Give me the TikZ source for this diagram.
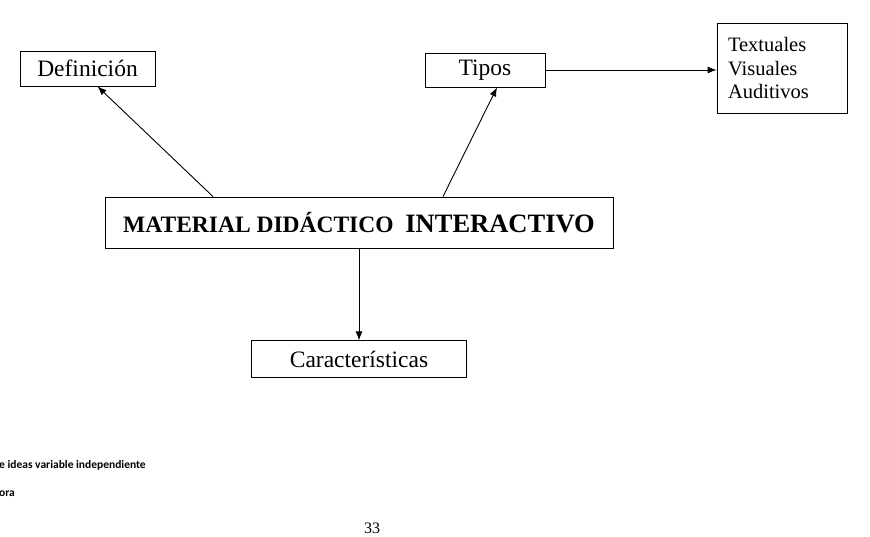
\documentclass[tikz,border=0pt]{standalone}
\usepackage{fontspec}
\setmainfont{Liberation Serif}[BoldFont={Liberation Serif Bold}]
\newfontfamily\notefont{Carlito}[BoldFont={Carlito Bold}]
\usetikzlibrary{arrows.meta,positioning}

\begin{document}
\begin{tikzpicture}[
  x=1pt, y=-1pt,
  box/.style={draw, line width=0.8pt, inner sep=0pt, align=center, font=\fontsize{23.5}{27}\selectfont},
  arr/.style={-{Latex[length=9pt,width=7pt]}, line width=0.9pt}
]
\useasboundingbox (0,0) rectangle (870,536);
\node[box, minimum width=508pt, minimum height=51pt] (material) at (359,222.5)
  {\bfseries MATERIAL DIDÁCTICO\ \ {\fontsize{26.5}{30}\selectfont INTERACTIVO}};
\node[box, minimum width=135pt, minimum height=35pt] (def) at (87.5,68.5) {Definición};
\node[box, minimum width=120pt, minimum height=34pt, text depth=5pt] (tipos) at (485,70) {Tipos};
\node[box, minimum width=130pt, minimum height=90pt, text width=108pt, inner xsep=11pt,
  align=left, font=\fontsize{20.5}{23.5}\selectfont] (lista) at (782,68) {Textuales\\Visuales\\Auditivos};
\node[box, minimum width=215pt, minimum height=37pt, below=92pt of material] (carac) {Características};
\draw[arr] ([xshift=-146pt]material.north) -- ([xshift=10pt]def.south);
\draw[arr] ([xshift=84pt]material.north) -- ([xshift=12pt]tipos.south);
\draw[arr] (tipos.east) -- (tipos.east -| lista.west);
\draw[arr] (material.south) -- (carac.north);
% notas al pie
\node[anchor=west, inner sep=0pt, font=\notefont\bfseries\fontsize{11.5}{14}\selectfont] (nota1) at (-1,465) {e ideas variable independiente};
\node[anchor=west, inner sep=0pt, font=\notefont\bfseries\fontsize{11.5}{14}\selectfont] (nota2) at (-1,494) {ora};
\node[inner sep=0pt, font=\fontsize{16}{18}\selectfont] (pag) at (372,528) {33};
\end{tikzpicture}
\end{document}
